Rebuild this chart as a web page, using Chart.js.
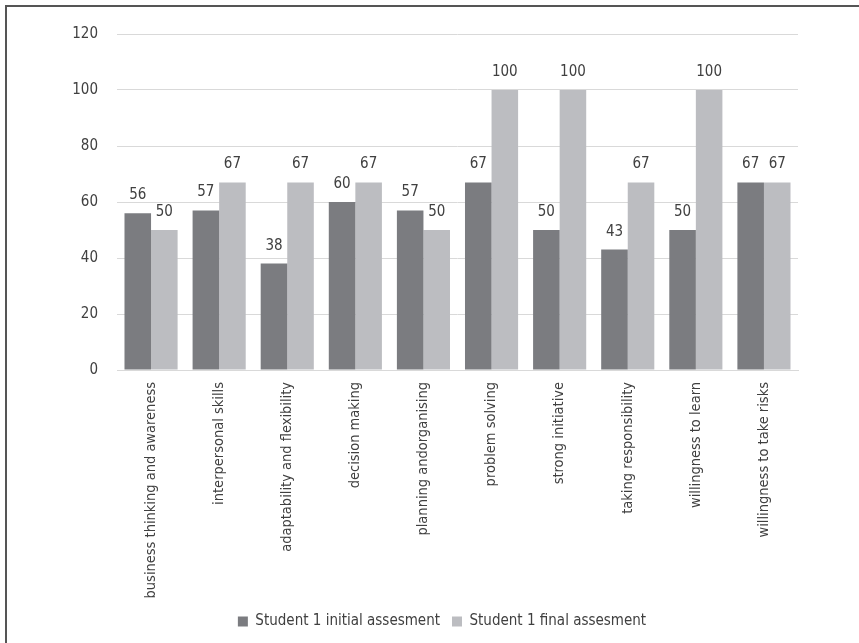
<!DOCTYPE html>
<html>
<head>
<meta charset="utf-8">
<script src="https://cdn.jsdelivr.net/npm/chart.js@4/dist/chart.umd.min.js"></script>
<style>
  html, body { margin: 0; padding: 0; background: #fff; }
  #wrap { position: relative; width: 859px; height: 643px; overflow: hidden; }
  #frame { position: absolute; left: 5px; top: 5px; width: 900px; height: 700px; border-left: 2px solid #555; border-top: 2px solid #555; box-sizing: border-box; pointer-events: none; }
  canvas { position: absolute; left: 0; top: 0; }
</style>
</head>
<body>
<div id="wrap">
  <canvas id="c" width="859" height="643"></canvas>
  <div id="frame"></div>
</div>
<script>
const categories = [
  "business thinking and awareness",
  "interpersonal skills",
  "adaptability and flexibility",
  "decision making",
  "planning andorganising",
  "problem solving",
  "strong initiative",
  "taking responsibility",
  "willingness to learn",
  "willingness to take risks"
];
const initialValues = [56, 57, 38, 60, 57, 67, 50, 43, 50, 67];
const finalValues = [50, 67, 67, 67, 50, 100, 100, 67, 100, 67];
const seriesNames = ["Student 1 initial assesment", "Student 1 final assesment"];
const yTicks = [0, 20, 40, 60, 80, 100, 120];

const FONT = "'Liberation Sans Narrow', 'DejaVu Sans Condensed', 'Roboto Condensed', sans-serif";

const valueLabels = {
  id: 'valueLabels',
  afterDatasetsDraw(chart) {
    const ctx = chart.ctx;
    ctx.save();
    ctx.font = "15px " + FONT;
    ctx.fillStyle = "#404040";
    ctx.textAlign = "center";
    ctx.textBaseline = "alphabetic";
    chart.data.datasets.forEach((ds, i) => {
      const meta = chart.getDatasetMeta(i);
      meta.data.forEach((bar, j) => {
        ctx.fillText(String(ds.data[j]), bar.x, bar.y - 14);
      });
    });
    ctx.restore();
  }
};

const legendShift = {
  id: 'legendShift',
  afterLayout(chart) {
    if (chart.legend) { chart.legend.left = 86; }
  }
};

new Chart(document.getElementById('c'), {
  type: 'bar',
  data: {
    labels: categories,
    datasets: [
      { label: seriesNames[0], data: initialValues, backgroundColor: '#7b7c80', categoryPercentage: 0.78, barPercentage: 1.0 },
      { label: seriesNames[1], data: finalValues, backgroundColor: '#bcbdc1', categoryPercentage: 0.78, barPercentage: 1.0 }
    ]
  },
  options: {
    responsive: false,
    animation: false,
    devicePixelRatio: 1,
    layout: { padding: { top: 34, right: 61, bottom: 4, left: 0 } },
    plugins: {
      tooltip: { enabled: false },
      legend: {
        position: 'bottom',
        labels: {
          font: { family: FONT, size: 15 },
          color: '#404040',
          boxWidth: 10,
          boxHeight: 10,
          padding: 12
        }
      }
    },
    scales: {
      x: {
        grid: { display: false, drawTicks: false },
        border: { color: '#d9d9d9', width: 1 },
        ticks: {
          font: { family: FONT, size: 14.5 },
          color: '#404040',
          minRotation: 90,
          maxRotation: 90,
          padding: 12,
          autoSkip: false
        },
        afterFit(scale) { scale.height = 232; }
      },
      y: {
        min: 0,
        max: 120,
        afterBuildTicks(scale) { scale.ticks = yTicks.map(v => ({ value: v })); },
        grid: { color: '#d9d9d9', lineWidth: 1, drawTicks: false },
        border: { display: false },
        ticks: {
          font: { family: FONT, size: 15 },
          color: '#404040',
          padding: 19
        },
        afterFit(scale) { scale.width = 117; }
      }
    }
  },
  plugins: [valueLabels, legendShift]
});
</script>
</body>
</html>
